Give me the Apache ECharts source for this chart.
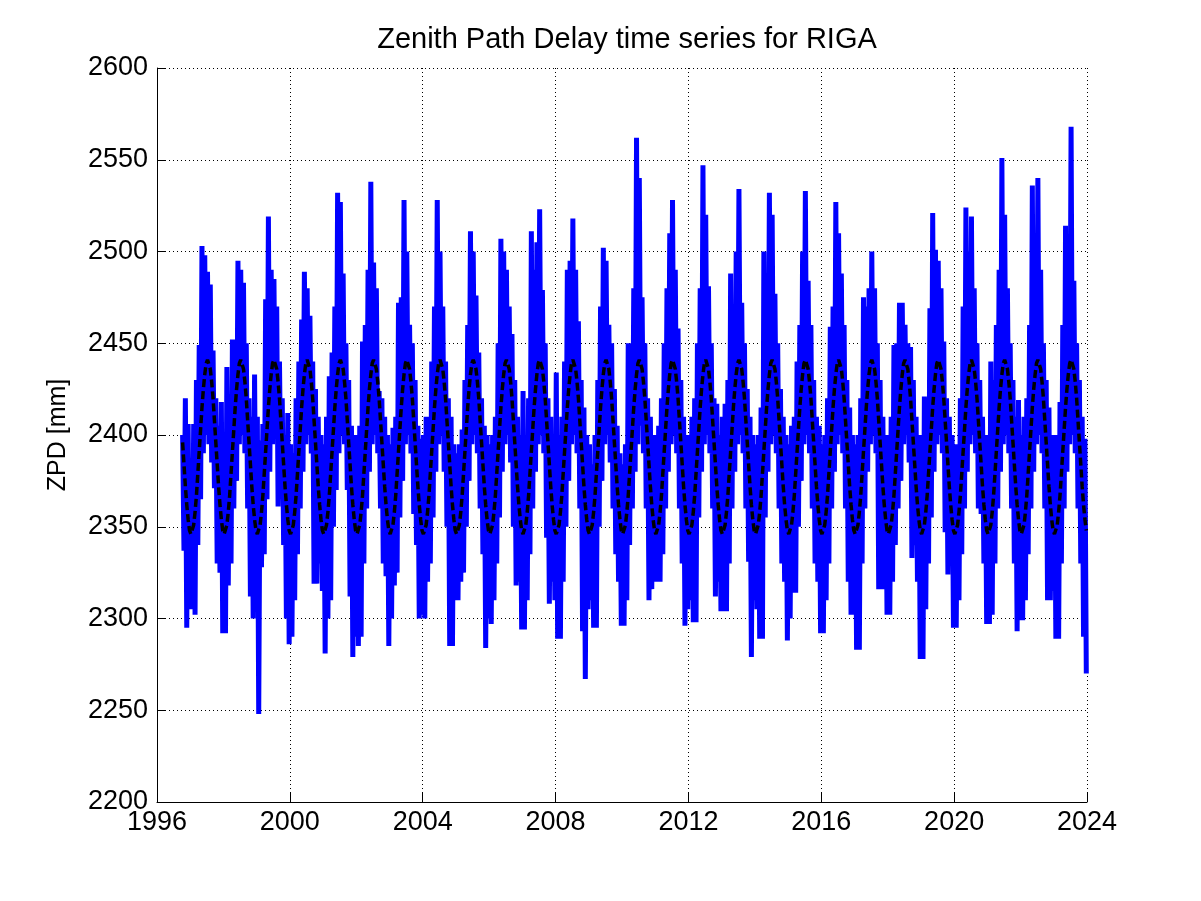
<!DOCTYPE html>
<html>
<head>
<meta charset="utf-8">
<script src="https://cdn.jsdelivr.net/npm/echarts@6/dist/echarts.min.js"></script>
<style>
  html, body { margin: 0; padding: 0; background: #ffffff; }
  #chart { width: 1201px; height: 901px; }
</style>
</head>
<body>
<div id="chart"></div>
<script>
// ---- Data ----
// Each year: 24 half-month values, alternating [high, low] per month (Jan..Dec), in mm.
const years = [1996, 1997, 1998, 1999, 2000, 2001, 2002, 2003, 2004, 2005, 2006, 2007, 2008, 2009,
               2010, 2011, 2012, 2013, 2014, 2015, 2016, 2017, 2018, 2019, 2020, 2021, 2022, 2023];

const zpd1996 = [null,null,null,null,null,null,null,null,null,null,null,null,null,null,null,null,null,null,
                 2400,2337,2420,2295,2406,2305];
const zpd1997 = [2386,2305,2406,2302,2430,2340,2449,2365,2503,2390,2498,2400,2489,2395,2482,2385,2446,2371,2420,2330,2405,2325,2418,2292];
const zpd1998 = [2400,2292,2437,2318,2415,2330,2452,2360,2445,2375,2495,2395,2490,2400,2483,2390,2450,2360,2420,2312,2410,2300,2433,2330];
const zpd1999 = [2410,2248,2397,2328,2406,2335,2474,2365,2519,2380,2490,2395,2485,2400,2470,2361,2440,2370,2420,2340,2400,2300,2412,2286];
const zpd2000 = [2395,2290,2390,2310,2420,2335,2440,2360,2463,2380,2489,2395,2480,2400,2465,2390,2440,2319,2425,2319,2410,2330,2400,2315];
const zpd2001 = [2395,2281,2410,2300,2432,2310,2445,2350,2470,2370,2532,2390,2527,2400,2488,2395,2450,2370,2430,2312,2405,2279,2400,2290];
const zpd2002 = [2400,2285,2405,2290,2451,2330,2460,2360,2490,2380,2538,2395,2494,2400,2480,2390,2424,2360,2420,2330,2410,2323,2400,2285];
const zpd2003 = [2395,2300,2404,2318,2410,2325,2472,2355,2475,2375,2528,2395,2500,2400,2460,2390,2450,2357,2430,2340,2405,2300,2398,2302];
const zpd2004 = [2400,2300,2410,2320,2410,2330,2440,2355,2470,2380,2528,2395,2500,2400,2470,2380,2440,2350,2420,2285,2410,2285,2395,2310];
const zpd2005 = [2390,2310,2395,2320,2403,2325,2430,2350,2460,2375,2511,2395,2500,2400,2476,2390,2445,2360,2420,2335,2405,2284,2400,2300];
const zpd2006 = [2395,2297,2400,2310,2410,2330,2450,2355,2507,2380,2500,2395,2490,2400,2470,2385,2455,2350,2430,2318,2410,2320,2400,2294];
const zpd2007 = [2424,2294,2400,2310,2420,2335,2511,2360,2490,2380,2505,2395,2523,2400,2479,2390,2450,2344,2420,2308,2410,2320,2400,2310];
const zpd2008 = [2434,2289,2400,2289,2410,2320,2440,2350,2490,2375,2495,2395,2518,2400,2490,2390,2462,2360,2430,2293,2415,2267,2400,2305];
const zpd2009 = [2395,2310,2384,2295,2400,2295,2430,2350,2470,2375,2502,2395,2495,2400,2460,2385,2450,2360,2425,2335,2405,2320,2390,2296];
const zpd2010 = [2384,2296,2395,2310,2450,2340,2450,2360,2480,2380,2562,2395,2540,2405,2475,2390,2450,2360,2420,2310,2410,2316,2400,2320];
const zpd2011 = [2400,2320,2405,2320,2420,2335,2450,2360,2480,2380,2510,2395,2528,2400,2490,2390,2458,2360,2430,2330,2410,2296,2400,2305];
const zpd2012 = [2400,2310,2410,2298,2420,2298,2450,2355,2480,2380,2547,2395,2520,2400,2481,2390,2450,2360,2420,2312,2417,2320,2400,2304];
const zpd2013 = [2410,2304,2417,2304,2430,2330,2488,2360,2470,2380,2500,2395,2534,2400,2472,2390,2450,2360,2425,2331,2410,2279,2400,2310];
const zpd2014 = [2395,2305,2400,2289,2415,2289,2500,2355,2480,2380,2532,2395,2520,2400,2477,2390,2450,2360,2425,2330,2410,2320,2400,2288];
const zpd2015 = [2395,2300,2405,2314,2410,2314,2440,2350,2460,2375,2500,2395,2533,2400,2484,2390,2460,2360,2430,2330,2410,2320,2405,2292];
const zpd2016 = [2395,2292,2400,2310,2420,2330,2459,2360,2470,2380,2527,2395,2510,2400,2488,2390,2460,2360,2430,2320,2415,2302,2400,2302];
const zpd2017 = [2395,2283,2400,2283,2420,2330,2475,2360,2470,2380,2480,2395,2500,2400,2480,2390,2450,2316,2430,2316,2410,2316,2400,2302];
const zpd2018 = [2400,2302,2410,2320,2449,2340,2450,2360,2472,2375,2472,2395,2460,2400,2450,2385,2448,2333,2430,2340,2410,2320,2400,2278];
const zpd2019 = [2400,2278,2421,2305,2420,2330,2469,2355,2521,2380,2501,2395,2495,2400,2480,2390,2451,2347,2420,2324,2410,2330,2400,2295];
const zpd2020 = [2395,2295,2395,2310,2420,2335,2470,2360,2524,2380,2500,2395,2519,2400,2480,2390,2450,2360,2430,2357,2410,2330,2400,2297];
const zpd2021 = [2400,2297,2440,2302,2430,2330,2460,2360,2490,2380,2551,2395,2520,2400,2480,2390,2450,2360,2430,2330,2410,2293,2419,2299];
const zpd2022 = [2400,2299,2410,2310,2420,2335,2460,2360,2536,2380,2500,2395,2540,2400,2490,2390,2450,2360,2430,2310,2415,2310,2400,2315];
const zpd2023 = [2400,2289,2400,2289,2418,2330,2460,2360,2514,2380,2500,2395,2568,2400,2484,2390,2450,2360,2430,2330,2410,2290,2398,2270];

const zpdByYear = [zpd1996, zpd1997, zpd1998, zpd1999, zpd2000, zpd2001, zpd2002, zpd2003, zpd2004, zpd2005,
                   zpd2006, zpd2007, zpd2008, zpd2009, zpd2010, zpd2011, zpd2012, zpd2013, zpd2014, zpd2015,
                   zpd2016, zpd2017, zpd2018, zpd2019, zpd2020, zpd2021, zpd2022, zpd2023];

// Seasonal model (black dashed curve), half-month values, repeated each year
const seasonalCycle = [2346,2347,2351,2358,2367,2379,2391,2403,2415,2425,2433,2439,
                       2441,2440,2436,2429,2420,2408,2396,2384,2372,2362,2354,2348];
const seriesStart = 1996.77;
const seriesEnd = 2024.0;

// Axis ticks
const xTicks = { min: 1996, max: 2024, step: 4 };
const yTicks = { min: 2200, max: 2600, step: 50 };

// ---- Build series points ----
const zpdPoints = [];
years.forEach((yr, i) => {
  zpdByYear[i].forEach((v, k) => {
    if (v !== null) zpdPoints.push([yr + (k + 0.5) / 24, v]);
  });
});
const modelPoints = [];
years.forEach((yr) => {
  seasonalCycle.forEach((v, k) => {
    const t = yr + (k + 0.5) / 24;
    if (t >= seriesStart && t <= seriesEnd) modelPoints.push([t, v]);
  });
});

const FONT = "'Liberation Sans', Arial, Helvetica, sans-serif";
const chart = echarts.init(document.getElementById('chart'), null, { renderer: 'canvas' });
chart.setOption({
  animation: false,
  backgroundColor: '#ffffff',
  title: {
    text: 'Zenith Path Delay time series for RIGA',
    left: 622,
    textAlign: 'center',
    top: 20,
    textStyle: { fontFamily: FONT, fontSize: 29, fontWeight: 'normal', color: '#000' }
  },
  grid: { left: 157, right: 114, top: 68, bottom: 99, containLabel: false },
  xAxis: {
    type: 'value',
    min: xTicks.min, max: xTicks.max, interval: xTicks.step,
    axisLine: { show: true, onZero: false, lineStyle: { color: '#000', width: 1 } },
    axisTick: { show: true, inside: true, length: 9, lineStyle: { color: '#000', width: 1 } },
    axisLabel: { color: '#000', fontFamily: FONT, fontSize: 27, margin: 7, formatter: (v) => String(v) },
    splitLine: { show: true, lineStyle: { color: '#000', width: 1, type: [1, 3] } }
  },
  yAxis: {
    type: 'value',
    min: yTicks.min, max: yTicks.max, interval: yTicks.step,
    name: 'ZPD [mm]',
    nameLocation: 'middle',
    nameRotate: 90,
    nameGap: 86,
    nameTextStyle: { color: '#000', fontFamily: FONT, fontSize: 25 },
    axisLine: { show: true, lineStyle: { color: '#000', width: 1 } },
    axisTick: { show: true, inside: true, length: 9, lineStyle: { color: '#000', width: 1 } },
    axisLabel: { color: '#000', fontFamily: FONT, fontSize: 27, margin: 9, formatter: (v) => String(v) },
    splitLine: { show: true, lineStyle: { color: '#000', width: 1, type: [1, 3] } }
  },
  series: [
    {
      name: 'ZPD',
      type: 'line',
      data: zpdPoints,
      showSymbol: false,
      symbol: 'none',
      sampling: null,
      lineStyle: { color: '#0000ff', width: 5, join: 'bevel' },
      z: 2
    },
    {
      name: 'Seasonal model',
      type: 'line',
      data: modelPoints,
      showSymbol: false,
      symbol: 'none',
      lineStyle: { color: '#000000', width: 3.5, type: [8, 4] },
      z: 3
    }
  ]
});
</script>
</body>
</html>
